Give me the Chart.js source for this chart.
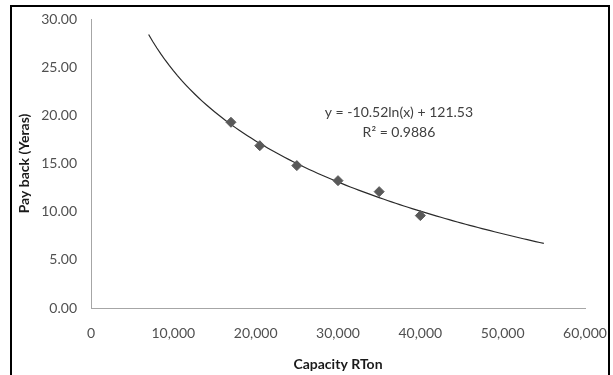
<!DOCTYPE html>
<html>
<head>
<meta charset="utf-8">
<script src="https://cdn.jsdelivr.net/npm/chart.js@4.4.1/dist/chart.umd.min.js"></script>
<style>
  html, body { margin: 0; padding: 0; background: #fff; overflow: hidden; }
  #wrap { position: relative; width: 613px; height: 375px; }
  #frame { position: absolute; left: 10px; top: 5px; width: 596px; height: 400px;
           border: 2px solid #000; box-sizing: content-box; pointer-events: none; }
  canvas { position: absolute; left: 0; top: 0; }
</style>
</head>
<body>
<div id="wrap">
  <canvas id="c" width="613" height="375"></canvas>
  <div id="frame"></div>
</div>
<script>
// Capacity (RTon) vs. pay-back period (years)
const capacity = [17000, 20500, 25000, 30000, 35000, 40000];
const payback  = [19.28, 16.85, 14.78, 13.22, 12.08, 9.59];

// Logarithmic trendline: y = A ln(x) + B
const TREND_A = -10.52;
const TREND_B = 121.53;
const TREND_R2 = 0.9886;
const TREND_FROM = 7000;
const TREND_TO = 55000;
const TREND_STEPS = 96;

const xTicks = [0, 10000, 20000, 30000, 40000, 50000, 60000];
const yTicks = [0, 5, 10, 15, 20, 25, 30];

const xTitle = 'Capacity RTon';
const yTitle = 'Pay back (Yeras)';
const eqLine1 = 'y = ' + TREND_A.toFixed(2) + 'ln(x) + ' + TREND_B.toFixed(2);
const eqLine2 = 'R\u00B2 = ' + TREND_R2.toFixed(4);

const trend = [];
for (let i = 0; i <= TREND_STEPS; i++) {
  const x = TREND_FROM + (TREND_TO - TREND_FROM) * i / TREND_STEPS;
  trend.push({ x: x, y: TREND_A * Math.log(x) + TREND_B });
}

const FONT = 'Lato, "Open Sans", sans-serif';

const equationLabel = {
  id: 'equationLabel',
  afterDatasetsDraw(chart) {
    const { ctx, scales } = chart;
    const cx = scales.x.getPixelForValue(37400);
    const cy = scales.y.getPixelForValue(20.25);
    ctx.save();
    ctx.font = '14px ' + FONT;
    ctx.fillStyle = '#404040';
    ctx.textAlign = 'center';
    ctx.textBaseline = 'middle';
    ctx.fillText(eqLine1, cx, cy);
    ctx.fillText(eqLine2, cx, cy + 20);
    ctx.restore();
  }
};

new Chart(document.getElementById('c'), {
  type: 'scatter',
  data: {
    datasets: [
      {
        label: 'Trend',
        data: trend,
        showLine: true,
        borderColor: '#2a2a2a',
        borderWidth: 1.2,
        pointRadius: 0,
        tension: 0,
        order: 2
      },
      {
        label: 'Pay back',
        data: capacity.map((c, i) => ({ x: c, y: payback[i] })),
        pointStyle: 'rectRot',
        pointRadius: 5,
        backgroundColor: '#595959',
        borderColor: '#595959',
        borderWidth: 1,
        order: 1
      }
    ]
  },
  options: {
    responsive: false,
    animation: false,
    layout: { padding: { top: 19, right: 28, left: 0, bottom: 0 } },
    plugins: { legend: { display: false }, tooltip: { enabled: false } },
    scales: {
      x: {
        type: 'linear',
        min: 0, max: 60000,
        afterBuildTicks: s => { s.ticks = xTicks.map(v => ({ value: v })); },
        afterFit: s => { s.height = 67; s.paddingLeft = 0; s.paddingRight = 0; },
        grid: { display: false, drawTicks: false },
        border: { color: '#a6a6a6', width: 1 },
        ticks: {
          padding: 17,
          color: '#505050',
          font: { family: FONT, size: 14 },
          maxRotation: 0,
          callback: v => v.toLocaleString('en-US')
        },
        title: {
          display: true,
          text: xTitle,
          color: '#1a1a1a',
          font: { family: FONT, size: 14, weight: 'bold' },
          padding: { top: 0, bottom: 2 }
        }
      },
      y: {
        type: 'linear',
        min: 0, max: 30,
        afterBuildTicks: s => { s.ticks = yTicks.map(v => ({ value: v })); },
        afterFit: s => { s.width = 91; s.paddingTop = 0; s.paddingBottom = 0; },
        grid: { display: false, drawTicks: false },
        border: { color: '#a6a6a6', width: 1 },
        ticks: {
          padding: 14,
          color: '#505050',
          font: { family: FONT, size: 14 },
          callback: v => v.toFixed(2)
        },
        title: {
          display: true,
          text: yTitle,
          color: '#1a1a1a',
          font: { family: FONT, size: 14, weight: 'bold' },
          padding: { top: 16, bottom: 0 }
        }
      }
    }
  },
  plugins: [equationLabel]
});
</script>
</body>
</html>
